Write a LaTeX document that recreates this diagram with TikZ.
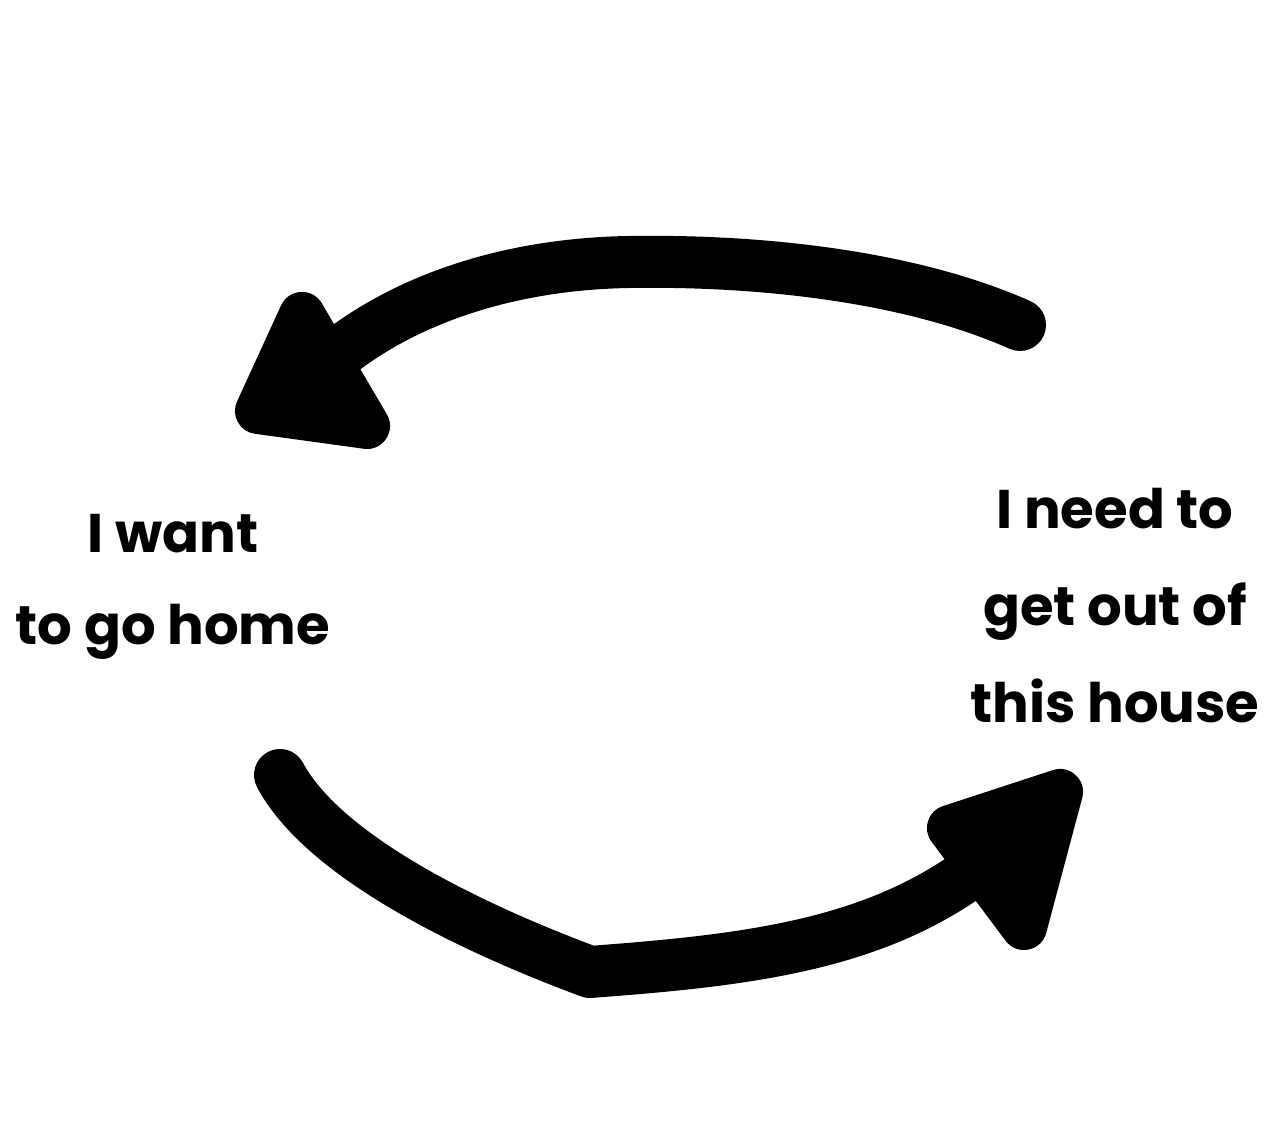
\documentclass[tikz,border=0pt]{standalone}
\usepackage{fontspec}
\setmainfont{Poppins}

\begin{document}
\begin{tikzpicture}[
	shaft/.style={line width=0.52cm, line cap=round, line join=round},
	headblob/.style={fill, draw, line width=0.46cm, line join=round},
	lbl/.style={align=center, inner sep=0pt, font=\bfseries\fontsize{15.5}{#1}\selectfont}]
			\useasboundingbox (0, 0) rectangle (12.84, 11.44);
			\node[lbl=26.2] (want) at (1.73, 5.57) {I want\\to go home};
			\node[lbl=27.7] (need) at (11.15, 5.385) {I need to\\get out of\\this house};
			\coordinate (topstart) at (10.20, 8.19);
			\coordinate (topmid) at (6.30, 8.82);
			\coordinate (topend) at (3.35, 7.88);
			\coordinate (botstart) at (2.80, 3.69);
			\coordinate (botmid) at (5.90, 1.72);
			\coordinate (botend) at (9.85, 2.82);
			\draw[shaft] (topstart) .. controls (9.10, 8.68) and (7.60, 8.84) .. (topmid)
				.. controls (5.00, 8.80) and (4.00, 8.40) .. (topend);
			\path[headblob] (3.02, 8.29) -- (2.58, 7.33) -- (3.67, 7.18) -- cycle;
			\draw[shaft] (botstart) .. controls (3.20, 2.94) and (4.50, 2.24) .. (botmid)
				.. controls (7.50, 1.84) and (8.80, 1.99) .. (botend);
			\path[headblob] (10.60, 3.52) -- (9.50, 3.16) -- (10.24, 2.17) -- cycle;
			\end{tikzpicture}
\end{document}
